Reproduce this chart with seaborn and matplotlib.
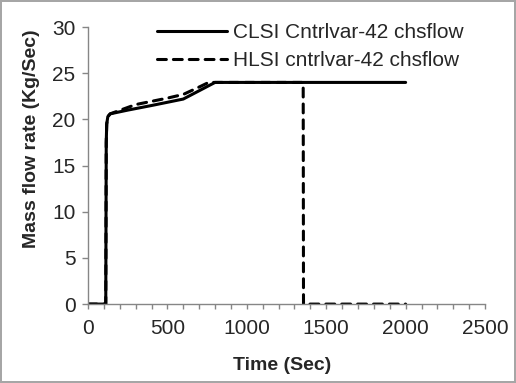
import numpy as np
import pandas as pd
import matplotlib
matplotlib.use('Agg')
import matplotlib.pyplot as plt
import seaborn as sns
from matplotlib.ticker import MultipleLocator

# series
clsi_time = [0, 112, 115, 118, 125, 140, 250, 400, 600, 800, 1000, 1500, 2000]
clsi_flow = [0, 0, 17.5, 19.5, 20.3, 20.6, 21.0, 21.5, 22.2, 24.0, 24.0, 24.0, 24.0]
hlsi_time = [0, 112, 115, 118, 125, 140, 300, 500, 600, 700, 760, 1000, 1355, 1357, 2000]
hlsi_flow = [0, 0, 17.5, 19.5, 20.3, 20.6, 21.6, 22.3, 22.7, 23.5, 24.0, 24.0, 24.0, 0, 0]

labels = ['CLSI Cntrlvar-42 chsflow', 'HLSI cntrlvar-42 chsflow']

sns.set_style('white')
plt.rcParams['font.family'] = ['Liberation Sans', 'DejaVu Sans']

fig = plt.figure(figsize=(5.16, 3.83), dpi=100)
fig.patch.set_edgecolor('#a6a6a6')
fig.patch.set_linewidth(1.5)
ax = fig.add_axes([0.1705, 0.206, 0.7695, 0.7235])

sns.lineplot(x=clsi_time, y=clsi_flow, ax=ax, color='black', lw=2.2,
             sort=False, estimator=None, label=labels[0])
sns.lineplot(x=hlsi_time, y=hlsi_flow, ax=ax, color='black', lw=2.2,
             sort=False, estimator=None, label=labels[1])
ax.lines[1].set_dashes([2.9, 2.3])
ax.lines[1].set_dash_capstyle('round')

ax.set_xlim(0, 2500)
ax.set_ylim(0, 30)
ax.xaxis.set_major_locator(MultipleLocator(500))
ax.xaxis.set_minor_locator(MultipleLocator(100))
ax.yaxis.set_major_locator(MultipleLocator(5))

for s in ['top', 'right']:
    ax.spines[s].set_visible(False)
for s in ['left', 'bottom']:
    ax.spines[s].set_color('#868686')
    ax.spines[s].set_linewidth(1)

ax.tick_params(axis='both', which='both', direction='out', color='#868686',
               labelsize=15, width=1)
ax.tick_params(axis='y', length=4, left=True, pad=5)
ax.tick_params(axis='x', which='both', length=3.5, bottom=True, pad=7)

ax.set_xlabel('Time (Sec)', fontsize=14, fontweight='bold')
ax.set_ylabel('Mass flow rate (Kg/Sec)', fontsize=14, fontweight='bold')
ax.xaxis.set_label_coords(0.49, -0.19)
ax.yaxis.set_label_coords(-0.121, 0.596)

leg = ax.legend(loc='upper left', bbox_to_anchor=(0.174, 1.015), frameon=False,
                fontsize=15, handlelength=3.35, handletextpad=0.3, borderpad=0,
                borderaxespad=0, labelspacing=0.45)
leg.get_lines()[1].set_dash_capstyle('round')

fig.savefig('out.png', dpi=100, edgecolor=fig.get_edgecolor())
